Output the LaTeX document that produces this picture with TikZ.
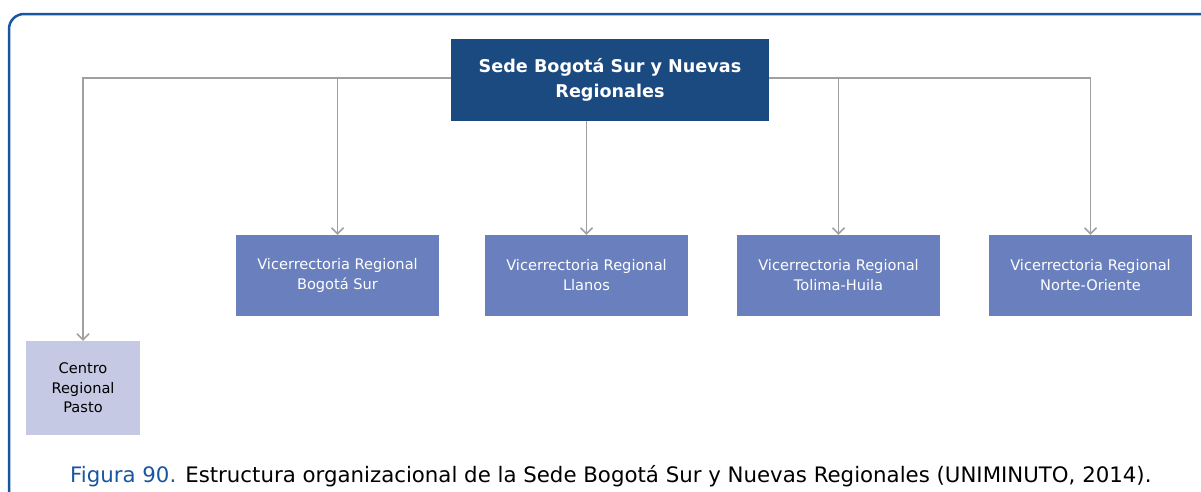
\documentclass[tikz,border=0pt]{standalone}
\usepackage{fontspec}
\setmainfont{DejaVu Sans}
\usetikzlibrary{arrows.meta,positioning}
\definecolor{sedeblue}{HTML}{1B4A80}
\definecolor{viceblue}{HTML}{6A7FBD}
\definecolor{centrolila}{HTML}{C5C9E3}
\definecolor{frameblue}{HTML}{1A56A0}
\definecolor{linegray}{HTML}{A0A0A0}

\begin{document}
\begin{tikzpicture}[x=1pt, y=-1pt,
    sede/.style={fill=sedeblue, text=white, font=\fontsize{17.6}{25}\selectfont\bfseries, minimum width=318pt, minimum height=82pt, align=center, inner sep=0pt},
    vice/.style={fill=viceblue, text=white, font=\fontsize{14.6}{20}\selectfont, minimum width=203pt, minimum height=81pt, align=center, inner sep=0pt},
    centro/.style={fill=centrolila, font=\fontsize{14.6}{19.5}\selectfont, minimum width=114pt, minimum height=94pt, align=center, inner sep=0pt},
    arr/.style={-{Straight Barb[length=6pt,width=12pt]}, draw=linegray, line width=1.5pt}
]
\useasboundingbox (0,0) rectangle (1201,491);
% frame
\draw[frameblue, line width=2.5pt, rounded corners=15pt] (9,495) -- (9,14) -- (1205,14);

\node[sede] (sede) at (610,80) {Sede Bogotá Sur y Nuevas\\Regionales};
\node[vice] (bogsur) at (337.5,275.5) {Vicerrectoria Regional\\Bogotá Sur};
\node[vice] (llanos) at (586.5,275.5) {Vicerrectoria Regional\\Llanos};
\node[vice] (tolima) at (838.5,275.5) {Vicerrectoria Regional\\Tolima-Huila};
\node[vice] (norte) at (1090.5,275.5) {Vicerrectoria Regional\\Norte-Oriente};
\node[centro] (pasto) at (83,388) {Centro\\Regional\\Pasto};

\draw[arr] ([yshift=2pt]sede.west) -| (pasto.north);
\draw[arr] ([yshift=2pt]sede.west) -| (bogsur.north);
\draw[arr] (sede.south -| llanos.north) -- (llanos.north);
\draw[arr] ([yshift=2pt]sede.east) -| (tolima.north);
\draw[arr] ([yshift=2pt]sede.east) -| (norte.north);

\node[anchor=base west, font=\fontsize{21.3}{24}\selectfont, inner sep=0pt] (caption) at (70,482)
  {\textcolor{frameblue}{Figura 90.} Estructura organizacional de la Sede Bogotá Sur y Nuevas Regionales (UNIMINUTO, 2014).};
\end{tikzpicture}
\end{document}
